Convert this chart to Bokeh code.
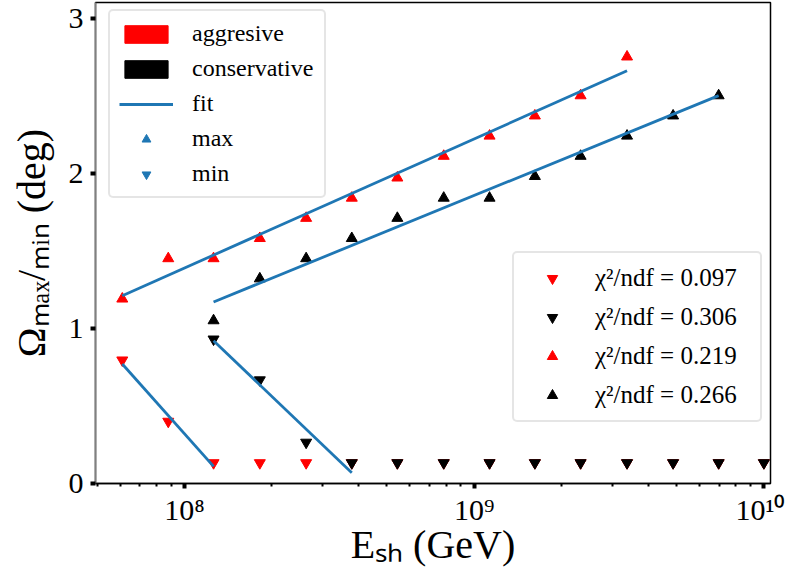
import math
from bokeh.plotting import figure
from bokeh.models import (Range1d, FixedTicker, CustomJSTickFormatter, Legend, LegendItem)
from bokeh.embed import file_html
from bokeh.resources import INLINE

NAN = float("nan")

# ---- data ----
energy = [6.10e7, 8.79e7, 1.26e8, 1.82e8, 2.63e8, 3.78e8, 5.43e8, 7.85e8,
          1.13e9, 1.62e9, 2.33e9, 3.37e9, 4.86e9, 6.98e9, 1.00e10]

aggr_max = [1.19, 1.45, 1.45, 1.58, 1.71, 1.84, 1.97, 2.11,
            2.24, 2.37, 2.50, 2.75, NAN, NAN, NAN]
aggr_min = [0.795, 0.40, 0.133, 0.133, 0.133, 0.133, 0.133, 0.133,
            0.133, 0.133, 0.133, 0.133, 0.133, 0.133, 0.133]
cons_max = [NAN, NAN, 1.05, 1.32, 1.45, 1.58, 1.71, 1.84,
            1.84, 1.98, 2.11, 2.24, 2.37, 2.50, NAN]
cons_min = [NAN, NAN, 0.93, 0.667, 0.265, 0.133, 0.133, 0.133,
            0.133, 0.133, 0.133, 0.133, 0.133, 0.133, 0.133]

# fits (aggr max, cons max, aggr min, cons min)
fit_E_start = [6.10e7, 1.26e8, 6.10e7, 1.26e8]
fit_E_end = [3.37e9, 6.98e9, 1.26e8, 3.78e8]
fit_y_start = [1.21, 1.17, 0.77, 0.92]
fit_y_end = [2.66, 2.50, 0.11, 0.07]

chi2_labels = ["χ²/ndf = 0.097", "χ²/ndf = 0.306", "χ²/ndf = 0.219", "χ²/ndf = 0.266"]
legend_labels = ["aggresive", "conservative", "fit", "max", "min"]
x_major = [1e8, 1e9, 1e10]
y_major = [0, 1, 2, 3]
x_title = "Eₛₕ (GeV)"
y_title = "Ωₘₐₓ/ₘᵢₙ (deg)"

FONT = "Liberation Serif"
RED = "#ff0000"
BLACK = "#000000"
BLUE = "#1f77b4"

p = figure(width=785, height=569, x_axis_type="log",
           x_range=Range1d(4.93e7, 1.054e10), y_range=Range1d(0, 3.1),
           output_backend="svg", toolbar_location=None,
           min_border_left=95, min_border_right=15, min_border_top=2, min_border_bottom=86)

p.grid.visible = False
p.outline_line_color = "black"
p.outline_line_width = 1.5
p.background_fill_color = "white"
p.border_fill_color = "white"

minor = [m * d for d in [1e7, 1e8, 1e9] for m in range(2, 10)]
p.xaxis.ticker = FixedTicker(ticks=x_major, minor_ticks=minor)
p.xaxis.formatter = CustomJSTickFormatter(code="""
const e = Math.round(Math.log10(tick));
const sup = {"0":"⁰","1":"¹","2":"²","3":"³","4":"⁴","5":"⁵","6":"⁶","7":"⁷","8":"⁸","9":"⁹","-":"⁻"};
return "10" + String(e).split("").map(c => sup[c]).join("");
""")
p.yaxis.ticker = FixedTicker(ticks=y_major, minor_ticks=[])

for ax in (p.xaxis[0], p.yaxis[0]):
    ax.major_tick_line_width = 4
    ax.major_tick_out = 5
    ax.major_tick_in = 0
    ax.minor_tick_line_width = 2
    ax.minor_tick_out = 3
    ax.minor_tick_in = 0
    ax.major_label_text_font = FONT
    ax.major_label_text_font_size = "30px"
    ax.major_label_text_color = "black"
    ax.axis_label_text_font = FONT
    ax.axis_label_text_font_size = "40px"
    ax.axis_label_text_font_style = "normal"
    ax.axis_label_text_color = "black"
    ax.axis_line_width = 1.5

p.xaxis.axis_line_color = "black"
p.yaxis.axis_line_color = "#808080"
p.xaxis.major_label_standoff = 4
p.yaxis.major_label_standoff = 7
p.xaxis.axis_label_standoff = -7
p.yaxis.axis_label_standoff = 12
p.xaxis.axis_label = x_title
p.yaxis.axis_label = y_title

# legend-only helpers, hidden underneath the real markers
d_aggr = p.quad(left=energy, right=energy, top=aggr_min, bottom=aggr_min,
                fill_color=RED, line_color=RED)
d_cons = p.quad(left=energy, right=energy, top=cons_min, bottom=cons_min,
                fill_color=BLACK, line_color=BLACK)
d_max = p.scatter(energy, aggr_max, marker="triangle", size=4,
                  fill_color=BLUE, line_color=BLUE)
d_min = p.scatter(energy, aggr_min, marker="inverted_triangle", size=4,
                  fill_color=BLUE, line_color=BLUE)

# markers
r_aggr_min = p.scatter(energy, aggr_min, marker="inverted_triangle", size=11,
                       fill_color=RED, line_color=RED)
r_aggr_max = p.scatter(energy, aggr_max, marker="triangle", size=11,
                       fill_color=RED, line_color=RED)
r_cons_min = p.scatter(energy, cons_min, marker="inverted_triangle", size=11,
                       fill_color=BLACK, line_color=BLACK)
r_cons_max = p.scatter(energy, cons_max, marker="triangle", size=11,
                       fill_color=BLACK, line_color=BLACK)

# fit lines
fit_renderers = []
for xs, xe, ys, ye in zip(fit_E_start, fit_E_end, fit_y_start, fit_y_end):
    fit_renderers.append(p.line([xs, xe], [ys, ye], line_color=BLUE, line_width=2.8))


def style_legend(lg, size):
    lg.label_text_font = FONT
    lg.label_text_font_size = size
    lg.label_text_color = "black"
    lg.border_line_color = "#cccccc"
    lg.border_line_width = 2
    lg.background_fill_color = "white"
    lg.background_fill_alpha = 0.8
    lg.margin = 0
    try:
        lg.border_radius = 5
    except AttributeError:
        pass


leg1 = Legend(items=[
    LegendItem(label=legend_labels[0], renderers=[d_aggr]),
    LegendItem(label=legend_labels[1], renderers=[d_cons]),
    LegendItem(label=legend_labels[2], renderers=[fit_renderers[0]]),
    LegendItem(label=legend_labels[3], renderers=[d_max]),
    LegendItem(label=legend_labels[4], renderers=[d_min]),
], location=(13, 285))
style_legend(leg1, "24px")
leg1.glyph_width = 54
leg1.glyph_height = 22
leg1.label_standoff = 19
leg1.spacing = 8
leg1.padding = 9
leg1.label_width = 123

leg2 = Legend(items=[
    LegendItem(label=chi2_labels[0], renderers=[r_aggr_min]),
    LegendItem(label=chi2_labels[1], renderers=[r_cons_min]),
    LegendItem(label=chi2_labels[2], renderers=[r_aggr_max]),
    LegendItem(label=chi2_labels[3], renderers=[r_cons_max]),
], location=(417, 61))
style_legend(leg2, "25px")
leg2.glyph_width = 54
leg2.glyph_height = 26
leg2.label_standoff = 16
leg2.spacing = 11
leg2.padding = 11
leg2.label_width = 154

p.add_layout(leg1, "center")
p.add_layout(leg2, "center")

open("out.html", "w").write(file_html(p, INLINE))
